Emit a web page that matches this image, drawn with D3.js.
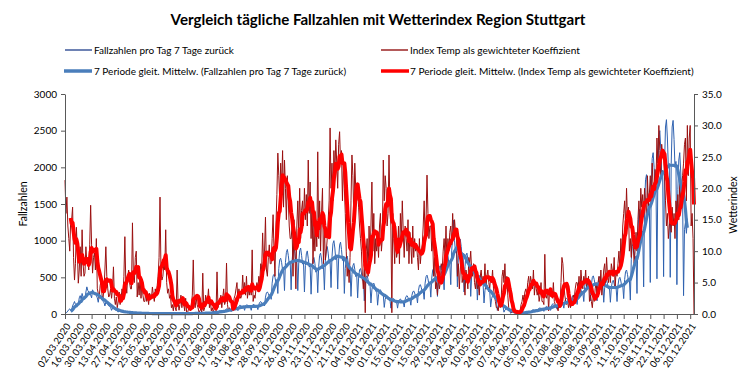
<!DOCTYPE html>
<html><head><meta charset="utf-8">
<script src="https://cdn.jsdelivr.net/npm/d3@7"></script>
<style>
body{margin:0;background:#fff;}
svg{display:block;font-family:Lato,"Open Sans",sans-serif;}
</style></head>
<body>
<script>
// ---------- DATA ----------
const titleText = "Vergleich tägliche Fallzahlen mit  Wetterindex Region Stuttgart";
const seriesNames = [
  "Fallzahlen pro Tag 7 Tage zurück",
  "Index Temp als gewichteter  Koeffizient",
  "7 Periode gleit. Mittelw. (Fallzahlen pro Tag 7 Tage zurück)",
  "7 Periode gleit. Mittelw. (Index Temp als gewichteter  Koeffizient)"
];
const startDay = "2020-03-02";
const endDay = "2021-12-24";
const leftTicks = [0, 500, 1000, 1500, 2000, 2500, 3000];
const rightTicks = [0, 5, 10, 15, 20, 25, 30, 35];
const tickLabels = ["02.03.2020","16.03.2020","30.03.2020","13.04.2020","27.04.2020","11.05.2020","25.05.2020","08.06.2020","22.06.2020","06.07.2020","20.07.2020","03.08.2020","17.08.2020","31.08.2020","14.09.2020","28.09.2020","12.10.2020","26.10.2020","09.11.2020","23.11.2020","07.12.2020","21.12.2020","04.01.2021","18.01.2021","01.02.2021","15.02.2021","01.03.2021","15.03.2021","29.03.2021","12.04.2021","26.04.2021","10.05.2021","24.05.2021","07.06.2021","21.06.2021","05.07.2021","19.07.2021","02.08.2021","16.08.2021","30.08.2021","13.09.2021","27.09.2021","11.10.2021","25.10.2021","08.11.2021","22.11.2021","06.12.2021","20.12.2021"];

// daily case numbers (one week per line, starting Monday 02.03.2020)
const cases = [
0,10,25,40,60,70,50,
60,110,140,170,130,120,150,
130,220,250,200,280,230,210,
200,300,370,320,300,280,260,
220,330,300,280,270,250,220,
160,250,230,210,190,170,160,
110,160,150,130,110,100,90,
50,80,75,65,55,50,45,
25,45,40,35,30,28,25,
15,30,28,22,20,18,17,
10,18,16,15,13,12,11,
6,12,11,10,9,8,8,
4,9,8,7,7,6,6,
3,7,6,6,5,5,5,
3,6,6,5,5,4,4,
3,6,6,5,4,4,4,
2,5,5,5,4,4,4,
3,6,6,5,5,4,5,
3,7,8,7,6,5,6,
4,9,10,9,8,7,8,
5,12,13,12,11,9,10,
6,15,17,16,14,12,13,
10,25,28,26,24,20,22,
15,40,45,42,38,32,35,
25,60,70,65,60,50,55,
35,85,95,90,85,70,75,
45,105,120,115,105,90,95,
50,110,125,120,110,95,100,
50,115,130,125,115,100,105,
60,130,160,170,150,130,150,
110,230,290,300,280,240,270,
200,420,520,540,500,430,470,
280,620,740,760,700,600,640,
320,700,840,880,800,680,720,
330,720,880,920,830,700,740,
320,700,860,900,800,680,700,
300,660,820,860,760,640,660,
270,600,740,770,690,570,600,
290,650,800,830,750,620,660,
330,720,880,920,830,690,730,
360,780,960,1000,900,740,780,
340,760,940,980,880,730,760,
280,620,760,790,700,580,620,
240,540,660,690,610,510,540,
220,490,600,620,560,460,490,
180,410,500,520,470,390,410,
150,330,400,420,380,310,330,
120,260,320,330,300,250,260,
90,200,240,250,230,190,200,
80,170,200,210,190,160,170,
80,165,195,205,185,155,165,
95,200,240,250,225,190,200,
120,250,300,315,285,240,250,
150,320,390,400,360,300,320,
200,420,510,530,480,400,420,
230,490,600,620,560,470,490,
240,520,640,660,590,500,520,
330,700,860,900,800,680,700,
400,860,1060,1280,1000,840,860,
370,800,980,1020,920,770,800,
300,650,800,830,750,630,650,
240,520,640,660,600,500,520,
190,420,510,530,480,400,420,
150,320,390,400,360,300,320,
95,210,250,260,240,200,210,
50,110,135,140,125,105,110,
25,55,65,68,60,50,55,
10,20,25,26,23,19,20,
8,15,18,19,17,14,15,
12,26,32,33,30,25,26,
20,45,55,57,51,43,45,
30,65,80,82,74,62,65,
36,80,98,102,92,76,80,
50,110,135,140,126,105,110,
65,140,170,178,160,134,140,
80,170,205,215,195,160,170,
95,200,245,255,230,190,200,
130,290,355,370,335,280,290,
170,380,470,490,440,360,380,
180,400,500,520,470,390,400,
180,400,490,510,460,380,400,
160,360,440,460,410,340,360,
160,360,440,460,410,340,360,
170,390,480,500,450,370,390,
210,470,580,600,540,450,470,
190,740,920,960,860,720,790,
280,1100,1380,1430,1300,1080,1130,
370,1480,1830,1900,1720,1430,1500,
430,1720,2120,2200,2000,1680,1740,
480,1950,2400,2500,2260,1900,1960,
510,2050,2550,2650,2400,2000,2050,
500,2050,2550,2640,2380,2000,2080,
400,1700,2100,2200,1950,1580,1600,
250,1150,1250,1100,1300
];

// daily weather index (one week per line)
const tempIndex = [
21.3,16,18.6,14,12,10,15,
15,17,9,5.4,8,13.8,10,
4.9,7,10.7,6,13.4,8,6,
6.5,10.7,8,8.5,7,11,17.3,
11,6.5,9,9.7,7,12,4,
3.3,2.5,4.5,5.4,3,2.5,4,
7,10.7,6,4,2.7,3,4,
2.5,4,7.5,2.5,1.5,2.7,1,
2,3.5,1.5,2.5,4,3,6,
12.3,5,3.3,6,7,5,4,
4,14.5,6,5,9,10,2.7,
5,3,6,2.5,5.4,3,2,
2,3.5,2,3,1.5,3.3,3,
2.5,4.3,3,2,4,3,4.5,
6,9,18.6,7,5.4,6,8,
7,13.4,5,3.3,4,2.5,3,
1,1.5,0.5,2,1,0.5,7,
2,0.6,1.5,3,1,2.5,1.5,
0.5,2.5,0.3,0.2,0.8,1,0.5,
1.5,3,8.6,2,1,2.7,1.5,
1,0.3,0.5,0.8,0.2,6.5,0.5,
1,3,1.5,2,4,1,2,
0.5,1,0.3,0.8,1.5,0.5,6.7,
1,2,1.5,3,1,2.5,4,
1.5,2,8.1,1.5,0.5,1,0.5,
0.5,1,0.8,2.5,3,4,5,
2,4,3,2.5,3,6.2,3.5,
5,3,6,2.5,4,3,4.5,
3,10.2,2,3,2.5,4,5,
4,6,5,8,7,12.9,8,
10,15.4,7,6,9,11,8,
8,12,15.8,10,6,14,19,
25.6,22,18,24,20,26,17,
24.5,20,15,22,18,14,12,
12,14,6,15,10,4,14,
18,13,20,12,16.5,18,14,
20,15,19,14,24.5,16,21,
12,18,8,14,10,15,10.7,
25.8,12,18,10,16,20,8,
14,8.6,10,12,15,18,29.6,
20,24,18,26,22,27.7,24,
20,27,29,24,26,18,24,
20,16,10,6,8,5,9,
18,25.3,22,15,24,20,18,
20,17,14,12,10,6,4,
8,0.2,10,12,6,14,9,
14,21,10,16,8,12,10,
12,9,14,16,10,12,24.5,
18,22,20,14,16,25.3,17,
14,0.2,16,12,8,14,9,
10,14,8,16,12,18,13,
9,14,12,10,15,8,13,
11,8,14,9,12,10,11,
9,7,12,8,10,11,14,
18,12,15,22.1,16,12,14,
14,10,12,6,9,4,5,
3,6,4,5,8,7,10,
12,9,14,8,12,10,13,
14,11,16,12,15,13,13,
6,8,4,7,10,5,6,
5,3,7,6,4,9,8,
10,7,6,8,5,4,6,
4,5,3,6,7,5,6,
5,8,4,6,7,5,4,
6,5,7,4,3,2,1,
1,0.5,2,1,2,6,7,
5,8,4,6,3,1,0.5,
0.5,0.2,0.5,0.3,0.5,0.2,0.3,
0.2,0.1,0.3,0.5,1.5,2,3,
2,3.5,4,3,5,6,4,
6,5,4,7,3,5,4,
3,4,2,3,5,2,2,
1.5,9.5,3,2.5,4,0.5,4,
4,3,2.5,5,2,1.5,1,
1,0.5,2,1,5,9,8,
5,3,2,1.5,2,1,2,
1,1.5,2,3,2.5,4,5,
5,4,6,3,7,5,4,
6,5,7,4,5,6,2,
3,2,1,3,2,4,5,
3,5,6,4,7,3,5,
7,8,5,9,6,5,7,
5,8,7,6,9,4,7,
6,8,10,7,12,9,14,
16,18,14,20,15,17,10,
12,9,14,11,8,10,13,
10,15,18,14,20,17,19,
16,20,18,15,22,17,19,
22,18,24,20,19,23,21,
28,24,30,26,22,27,25,
26,22,18,14,16,12,14,
15,13,17,14,16,12,18,
16,19,15,21,18,20,22,
24,27,28,18,30,22,28,30,14,16,12,0
];

// ---------- CHART ----------
const W = 756, H = 378;
const M = {left: 65, right: 694, top: 94, bottom: 314};
const parse = d3.utcParse("%Y-%m-%d");
const parseLbl = d3.utcParse("%d.%m.%Y");
const t0 = parse(startDay), t1 = parse(endDay);
const dayDate = i => d3.utcDay.offset(t0, i);

function movingAvg(arr, n) {
  return arr.map((v, i) => i < n - 1 ? null : d3.mean(arr.slice(i - n + 1, i + 1)));
}
const casesMA = movingAvg(cases, 7);
const tempMA = movingAvg(tempIndex, 7);

const x = d3.scaleUtc().domain([t0, t1]).range([M.left, M.right]);
const yL = d3.scaleLinear().domain([0, 3000]).range([M.bottom, M.top]);
const yR = d3.scaleLinear().domain([0, 35]).range([M.bottom, M.top]);

const svg = d3.select("body").append("svg").attr("width", W).attr("height", H);
svg.append("rect").attr("width", W).attr("height", H).attr("fill", "#fff");

function fit(sel, width) {
  const n = sel.node();
  const fs = parseFloat(sel.attr("font-size"));
  const w = n.getComputedTextLength();
  if (w > 0) sel.attr("font-size", (fs * width / w).toFixed(2));
}

// title
svg.append("text").attr("x", 378).attr("y", 25).attr("text-anchor", "middle")
  .attr("font-weight", "bold").attr("font-size", 15).attr("fill", "#000")
  .text(titleText).call(fit, 415);

// legend
const legend = [
  {x1: 65, x2: 92, y: 50, color: "#1F3F8C", w: 1.3, tx: 94, tw: 140, name: seriesNames[0]},
  {x1: 381, x2: 408, y: 50, color: "#8B0000", w: 1.3, tx: 410, tw: 170, name: seriesNames[1]},
  {x1: 64, x2: 92, y: 71, color: "#4A7EBB", w: 3.5, tx: 94, tw: 252, name: seriesNames[2]},
  {x1: 381, x2: 409, y: 71, color: "#FF0000", w: 3.5, tx: 410, tw: 284, name: seriesNames[3]}
];
legend.forEach(l => {
  svg.append("line").attr("x1", l.x1).attr("x2", l.x2).attr("y1", l.y).attr("y2", l.y)
    .attr("stroke", l.color).attr("stroke-width", l.w);
  svg.append("text").attr("x", l.tx).attr("y", l.y).attr("dy", "0.35em")
    .attr("font-size", 10).attr("fill", "#000").text(l.name).call(fit, l.tw);
});

// lines
const lineL = d3.line().defined(d => d != null).x((d, i) => x(dayDate(i))).y(d => yL(d));
const lineR = d3.line().defined(d => d != null).x((d, i) => x(dayDate(i))).y(d => yR(d));

const plot = svg.append("g");
plot.append("path").datum(cases).attr("d", lineL).attr("fill", "none")
  .attr("stroke", "#2F62B0").attr("stroke-width", 1).attr("stroke-linejoin", "round");
plot.append("path").datum(tempIndex).attr("d", lineR).attr("fill", "none")
  .attr("stroke", "#9B1010").attr("stroke-width", 1).attr("stroke-linejoin", "round");
plot.append("path").datum(casesMA).attr("d", lineL).attr("fill", "none")
  .attr("stroke", "#4A7EBB").attr("stroke-width", 3.2).attr("stroke-linejoin", "round");
plot.append("path").datum(tempMA).attr("d", lineR).attr("fill", "none")
  .attr("stroke", "#FF0000").attr("stroke-width", 4).attr("stroke-linejoin", "round");

// axes
const axisColor = "#595959";
function styleAxis(g) {
  g.selectAll("path,line").attr("stroke", axisColor);
  g.selectAll("text").attr("fill", "#000").attr("font-family", "Lato, sans-serif");
}
svg.append("g").attr("transform", `translate(${M.left},0)`)
  .call(d3.axisLeft(yL).tickValues(leftTicks).tickSize(4).tickSizeOuter(0).tickPadding(4).tickFormat(d3.format("d")))
  .call(g => g.selectAll("text").attr("font-size", 10))
  .call(styleAxis);
svg.append("g").attr("transform", `translate(${M.right},0)`)
  .call(d3.axisRight(yR).tickValues(rightTicks).tickSize(4).tickSizeOuter(0).tickPadding(4).tickFormat(d3.format(".1f")))
  .call(g => g.selectAll("text").attr("font-size", 10))
  .call(styleAxis);
const tickDates = tickLabels.map(s => parseLbl(s));
const xg = svg.append("g").attr("transform", `translate(0,${M.bottom})`)
  .call(d3.axisBottom(x).tickValues(tickDates).tickSize(5).tickSizeOuter(0).tickFormat((d, i) => tickLabels[i]))
  .call(styleAxis);
xg.selectAll(".tick text")
  .attr("font-size", 9.6)
  .attr("letter-spacing", 0.2)
  .attr("text-anchor", "end")
  .attr("dy", "0.35em")
  .attr("y", 0)
  .attr("transform", "translate(3,10) rotate(-56)");

// axis titles
svg.append("text").attr("transform", "translate(27,204) rotate(-90)").attr("text-anchor", "middle")
  .attr("font-size", 10.5).attr("fill", "#000").text("Fallzahlen");
svg.append("text").attr("transform", "translate(737,205) rotate(-90)").attr("text-anchor", "middle")
  .attr("font-size", 10.5).attr("fill", "#000").text("Wetterindex");
</script>
</body></html>
